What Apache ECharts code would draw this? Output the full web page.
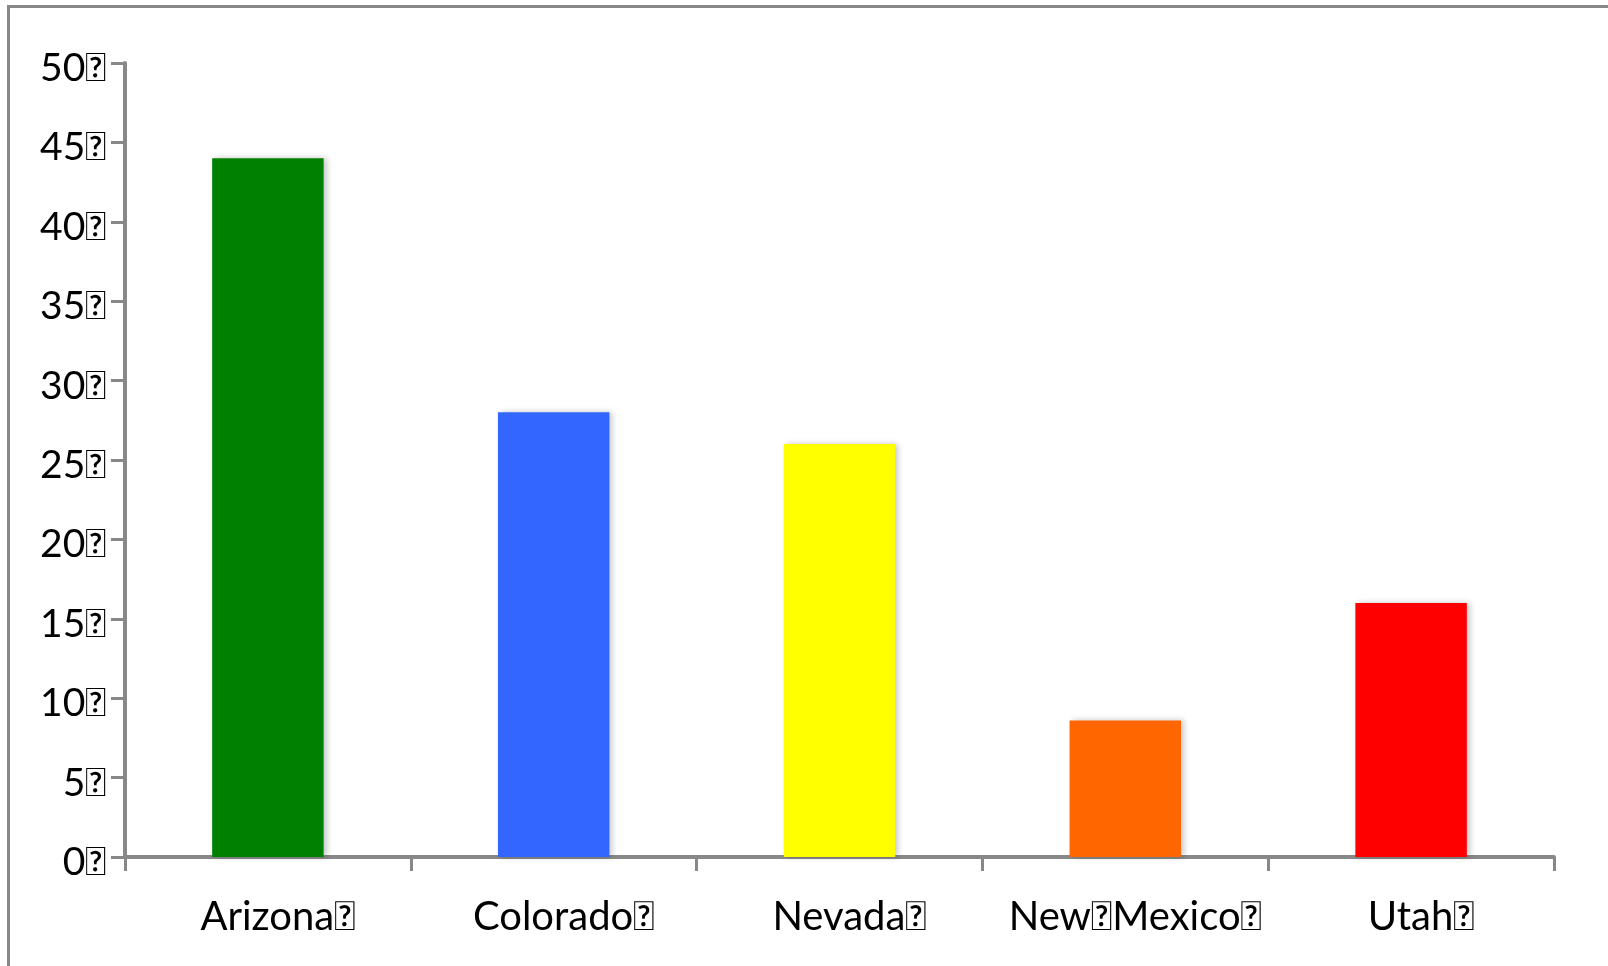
<!DOCTYPE html>
<html><head><meta charset="utf-8">
<script src="https://cdn.jsdelivr.net/npm/echarts@6/dist/echarts.min.js"></script>
<style>html,body{margin:0;padding:0;background:#fff}#c{width:1608px;height:966px}</style>
</head><body><div id="c"></div>
<script>
const MISSING = '\uF020';
const categories = ['Arizona' + MISSING, 'Colorado' + MISSING, 'Nevada' + MISSING, 'New' + MISSING + 'Mexico' + MISSING, 'Utah' + MISSING];
const values = [44, 28, 26, 8.6, 16];
const colors = ['#008000', '#3366FF', '#FFFF00', '#FF6600', '#FF0000'];
const yTicks = { min: 0, max: 50, interval: 5 };

const chart = echarts.init(document.getElementById('c'));
const font = 'Lato, "DejaVu Sans", sans-serif';
chart.setOption({
  animation: false,
  backgroundColor: '#fff',
  graphic: [{ type: 'rect', shape: { x: 8.5, y: 6.5, width: 1700, height: 1100 }, style: { fill: 'none', stroke: '#888', lineWidth: 3 } }],
  grid: { left: 125, right: 54, top: 63, bottom: 109, containLabel: false },
  xAxis: {
    type: 'category', data: categories,
    axisLine: { lineStyle: { color: '#888', width: 4 } },
    axisTick: { show: true, interval: 0, length: 14, lineStyle: { color: '#888', width: 3 } },
    axisLabel: { interval: 0, color: '#000', fontSize: 40, fontFamily: font, margin: 40,
      backgroundColor: 'rgba(0,0,0,0)', padding: [0, 0, 0, 20] },
    splitLine: { show: false }
  },
  yAxis: {
    type: 'value', min: yTicks.min, max: yTicks.max, interval: yTicks.interval,
    axisLine: { show: true, lineStyle: { color: '#888', width: 4 } },
    axisTick: { show: true, length: 14, lineStyle: { color: '#888', width: 3 } },
    axisLabel: { color: '#000', fontSize: 39, fontFamily: font, margin: 19, verticalAlign: 'top', lineHeight: 11, formatter: v => v + MISSING },
    splitLine: { show: false }
  },
  series: [{
    type: 'bar', barWidth: '39%',
    data: values.map((v, i) => ({ value: v, itemStyle: { color: colors[i] } })),
    itemStyle: { shadowColor: 'rgba(0,0,0,0.22)', shadowBlur: 6, shadowOffsetX: 3, shadowOffsetY: 0 }
  }]
});
</script></body></html>
